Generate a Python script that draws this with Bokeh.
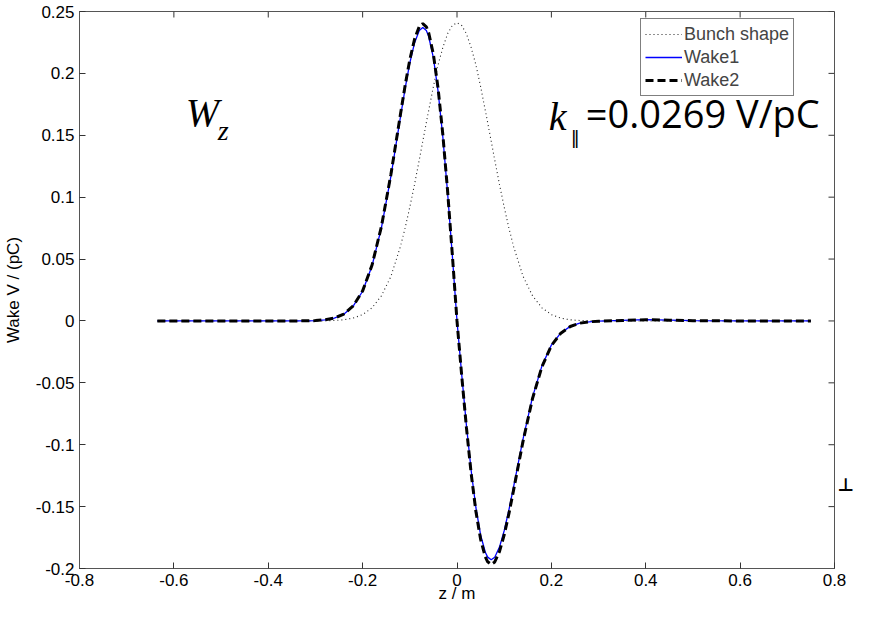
import math
from bokeh.plotting import figure
from bokeh.models import Range1d, Label, Legend, LegendItem, FixedTicker, LinearAxis
from bokeh.embed import file_html
from bokeh.resources import INLINE

# ---- data ----
z = [-0.635, -0.55, -0.45, -0.36, -0.32, -0.30, -0.28, -0.26, -0.24, -0.22, -0.20,
     -0.18, -0.16, -0.14, -0.12, -0.11, -0.10, -0.09, -0.08, -0.0725, -0.065, -0.06,
     -0.05, -0.04, -0.03, -0.02, -0.01, 0.0,
     0.01, 0.02, 0.03, 0.04, 0.05, 0.06, 0.065, 0.0725, 0.08, 0.09, 0.10, 0.11,
     0.12, 0.14, 0.16, 0.18, 0.20, 0.22, 0.24, 0.26, 0.28, 0.30, 0.35, 0.40, 0.45,
     0.50, 0.60, 0.75]

bunch = [0.0, 0.0, 0.0, 0.0, 0.0, 0.0, 0.0001, 0.0004, 0.0009, 0.0023, 0.0051,
         0.0106, 0.0204, 0.036, 0.060, 0.0750, 0.092, 0.1103, 0.130, 0.1452, 0.1603, 0.170,
         0.1894, 0.207, 0.2209, 0.232, 0.2387, 0.241,
         0.2387, 0.232, 0.2209, 0.207, 0.1894, 0.170, 0.1603, 0.1452, 0.130, 0.1103, 0.092, 0.0750,
         0.060, 0.036, 0.0204, 0.0106, 0.0051, 0.0023, 0.0009, 0.0004, 0.0001, 0.0, 0.0, 0.0, 0.0,
         0.0, 0.0, 0.0]

wake1 = [0.0, 0.0, 0.0, 0.0, 0.0001, 0.0003, 0.0009, 0.0023, 0.0054, 0.0119, 0.0240,
         0.0446, 0.0756, 0.117, 0.1644, 0.1876, 0.2084, 0.2246, 0.2347, 0.2371, 0.2346, 0.2298,
         0.2126, 0.1853, 0.1485, 0.1039, 0.0534, 0.0,
         -0.0434, -0.0845, -0.1208, -0.1507, -0.1729, -0.1869, -0.1908, -0.1929, -0.1909, -0.1827, -0.1695, -0.1526,
         -0.1338, -0.0952, -0.0615, -0.0363, -0.0195, -0.0097, -0.0044, -0.0018, -0.0007, -0.0002, 0.0004, 0.0010, 0.0006,
         0.0002, 0.0, 0.0]

wake2 = [0.0, 0.0, 0.0, 0.0, 0.0001, 0.0003, 0.0009, 0.0023, 0.0055, 0.0121, 0.0243,
         0.0452, 0.0766, 0.1185, 0.1665, 0.1901, 0.2111, 0.2276, 0.2378, 0.2402, 0.2376, 0.2328,
         0.2154, 0.1877, 0.1505, 0.1053, 0.0541, 0.0,
         -0.0443, -0.0862, -0.1232, -0.1537, -0.1764, -0.1906, -0.1946, -0.1967, -0.1947, -0.1863, -0.1729, -0.1557,
         -0.1365, -0.0971, -0.0627, -0.0370, -0.0199, -0.0099, -0.0045, -0.0018, -0.0007, -0.0002, 0.0004, 0.0010, 0.0006,
         0.0002, 0.0, 0.0]

x_ticks = [-0.8, -0.6, -0.4, -0.2, 0.0, 0.2, 0.4, 0.6, 0.8]
x_tick_labels = ["-0.8", "-0.6", "-0.4", "-0.2", "0", "0.2", "0.4", "0.6", "0.8"]
y_ticks = [-0.2, -0.15, -0.1, -0.05, 0.0, 0.05, 0.1, 0.15, 0.2, 0.25]
y_tick_labels = ["-0.2", "-0.15", "-0.1", "-0.05", "0", "0.05", "0.1", "0.15", "0.2", "0.25"]
x_lim = [-0.8, 0.8]
y_lim = [-0.2, 0.25]

series_names = ["Bunch shape", "Wake1", "Wake2"]
x_label = "z / m"
y_label = "Wake V / (pC)"
perp_text = "\u22a5"      # fragment of the neighbouring panel's k-symbol
perp_y = -0.132

AX = "#555555"
TICK = "#333333"
FONT = "Liberation Sans"

p = figure(width=856, height=605, output_backend="svg", toolbar_location=None,
           x_range=Range1d(*x_lim), y_range=Range1d(*y_lim),
           min_border_left=74, min_border_right=21, min_border_top=11, min_border_bottom=30)
p.xgrid.visible = False
p.ygrid.visible = False
p.outline_line_color = AX
p.background_fill_color = "white"
p.border_fill_color = "white"

r_b = p.line(z, bunch, line_color="#222222", line_width=1.1, line_dash="1 3")
r_1 = p.line(z, wake1, line_color="#0000ff", line_width=1.3)
r_2 = p.line(z, wake2, line_color="black", line_width=3, line_dash="8 4")

xa = p.xaxis[0]
ya = p.yaxis[0]
for ax, ticks, labels in ((xa, x_ticks, x_tick_labels), (ya, y_ticks, y_tick_labels)):
    ax.ticker = FixedTicker(ticks=ticks)
    ax.major_label_overrides = {t: l for t, l in zip(ticks, labels)}
    ax.major_tick_in = 6
    ax.major_tick_out = 0
    ax.minor_tick_line_color = None
    ax.axis_line_color = AX
    ax.major_tick_line_color = TICK
    ax.major_label_text_font = FONT
    ax.major_label_text_font_size = "17px"
    ax.major_label_text_color = "black"
    ax.axis_label_text_font = FONT
    ax.axis_label_text_font_size = "17px"
    ax.axis_label_text_font_style = "normal"
    ax.axis_label_text_color = "black"
xa.major_label_standoff = 5
ya.major_label_standoff = 5
xa.axis_label = x_label
ya.axis_label = y_label
xa.axis_label_standoff = -5
ya.axis_label_standoff = 10

# inward ticks on the top and right edges of the box
p.ray(x=x_ticks, y=[y_lim[1]] * len(x_ticks), length=6, length_units="screen",
      angle=-math.pi / 2, line_color=TICK, line_width=1)
p.ray(x=[x_lim[1]] * len(y_ticks), y=y_ticks, length=6, length_units="screen",
      angle=math.pi, line_color=TICK, line_width=1)

# the cut-off symbol at the right edge, drawn in the right-hand side panel
ra = LinearAxis(ticker=FixedTicker(ticks=[perp_y]),
                major_label_overrides={perp_y: perp_text})
ra.axis_line_color = None
ra.major_tick_line_color = None
ra.major_tick_in = 0
ra.major_tick_out = 0
ra.minor_tick_line_color = None
ra.major_label_standoff = 3
ra.major_label_text_font = "DejaVu Sans"
ra.major_label_text_font_style = "bold"
ra.major_label_text_font_size = "18px"
ra.major_label_text_color = "black"
p.add_layout(ra, "right")

legend = Legend(items=[LegendItem(label=series_names[0], renderers=[r_b]),
                       LegendItem(label=series_names[1], renderers=[r_1]),
                       LegendItem(label=series_names[2], renderers=[r_2])],
                location=(561, 472))
legend.border_line_color = "black"
legend.border_line_width = 1
legend.background_fill_color = "white"
legend.background_fill_alpha = 1
legend.label_text_font = FONT
legend.label_text_font_size = "18px"
legend.glyph_width = 37
legend.glyph_height = 22
legend.label_height = 22
legend.label_standoff = 2
legend.spacing = 1
legend.padding = 4
legend.margin = 0
p.add_layout(legend, "center")

SERIF = "Liberation Serif"
p.add_layout(Label(x=-0.575, y=0.1505, text="W", text_font=SERIF, text_font_style="italic",
                   text_font_size="40px", text_color="black"))
p.add_layout(Label(x=-0.575, y=0.1415, x_offset=32, text="z", text_font=SERIF,
                   text_font_style="italic", text_font_size="28px", text_color="black"))

p.add_layout(Label(x=0.1945, y=0.147, text="k", text_font=SERIF, text_font_style="italic",
                   text_font_size="40px", text_color="black"))
p.add_layout(Label(x=0.1945, y=0.140, x_offset=22, text="\u2016", text_font="DejaVu Sans",
                   text_font_size="18px", text_color="black"))
p.add_layout(Label(x=0.1945, y=0.147, x_offset=37, text="=0.0269 V/pC", text_font="Open Sans",
                   text_font_size="38px", text_color="black"))

open("out.html", "w").write(file_html(p, INLINE))
